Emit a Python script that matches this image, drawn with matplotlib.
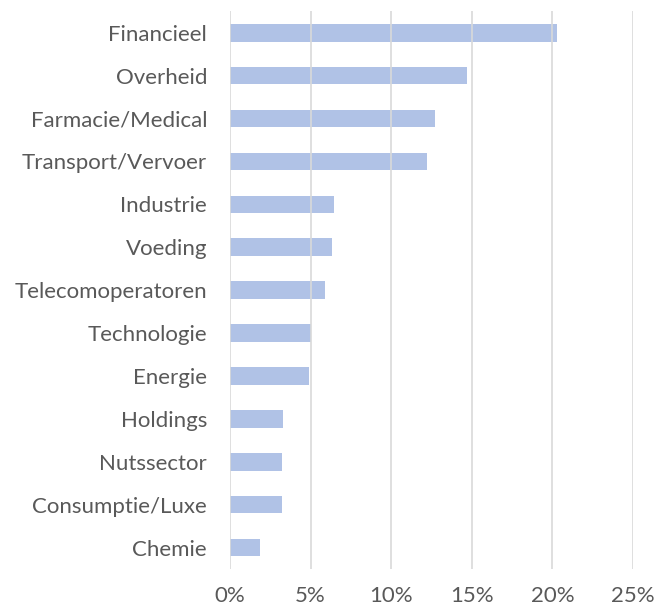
import matplotlib
matplotlib.use("Agg")
import matplotlib.pyplot as plt
from matplotlib.ticker import FuncFormatter

categories = [
    "Financieel", "Overheid", "Farmacie/Medical", "Transport/Vervoer",
    "Industrie", "Voeding", "Telecomoperatoren", "Technologie", "Energie",
    "Holdings", "Nutssector", "Consumptie/Luxe", "Chemie",
]
values = [20.3, 14.7, 12.7, 12.2, 6.45, 6.3, 5.9, 5.05, 4.9, 3.27, 3.22, 3.2, 1.88]
xticks = [0, 5, 10, 15, 20, 25]

plt.rcParams["font.family"] = ["Lato", "DejaVu Sans"]

fig = plt.figure(figsize=(6.69, 6.08), dpi=100)
ax = fig.add_axes([0.3438, 0.0641, 0.6024, 0.9173])

pos = list(range(len(categories)))
ax.barh(pos, values, height=0.41, color="#b0c2e6", zorder=1)
ax.set_yticks(pos)
ax.set_yticklabels(categories)
ax.set_ylim(len(categories) - 0.5, -0.5)

ax.set_xlim(0, 25)
ax.set_xticks(xticks)
ax.xaxis.set_major_formatter(FuncFormatter(lambda v, p: f"{v:.0f}%"))
ax.grid(axis="x", color="#d9d9d9", linewidth=1.4, zorder=0)
for line in ax.get_xgridlines():
    line.set_zorder(2)
    line.set_alpha(0.85)

for s in ax.spines.values():
    s.set_visible(False)
ax.tick_params(axis="both", length=0, labelsize=16, labelcolor="#595959")
ax.tick_params(axis="y", pad=16.5)
ax.tick_params(axis="x", pad=12.5)

fig.savefig("out.png", dpi=100)
